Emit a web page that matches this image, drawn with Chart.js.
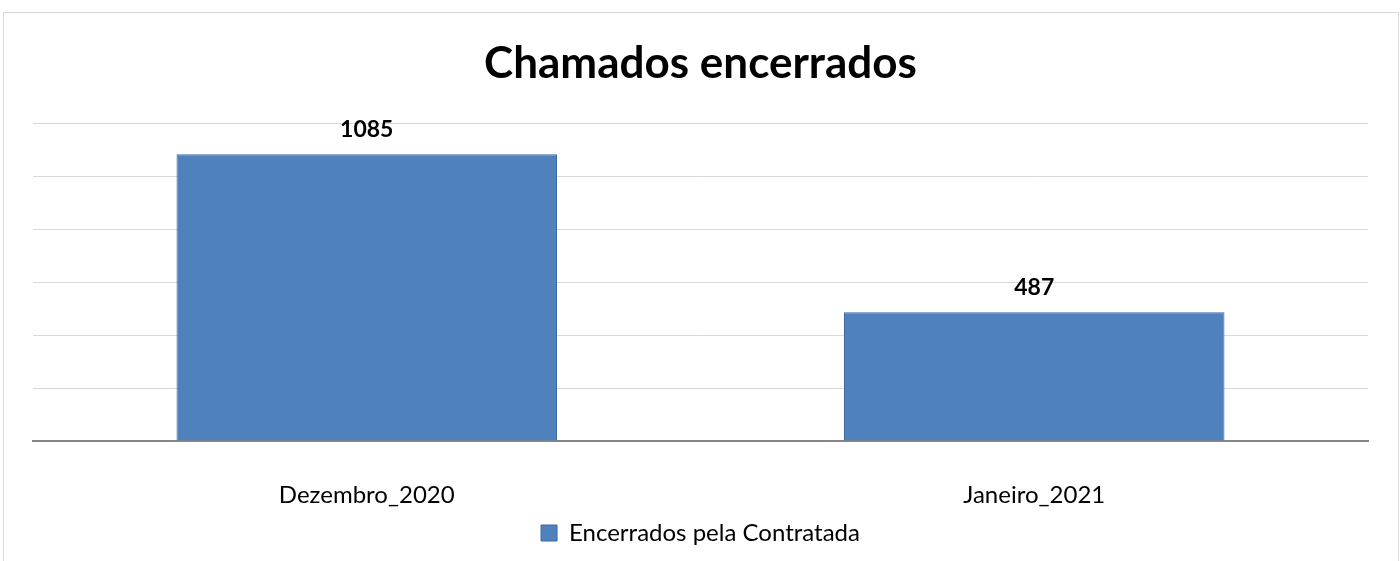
<!DOCTYPE html>
<html lang="pt-BR">
<head>
<meta charset="utf-8">
<title>Chamados encerrados</title>
<script src="https://cdn.jsdelivr.net/npm/chart.js@4/dist/chart.umd.min.js"></script>
<style>
  html, body { margin: 0; padding: 0; background: #fff; }
  .frame { position: absolute; left: 3px; top: 12px; width: 1394px; height: 560px; border: 1px solid #d9d9d9; }
  .wrap { position: absolute; left: 0; top: 0; width: 1400px; height: 561px; }
</style>
</head>
<body>
<div class="frame"></div>
<div class="wrap"><canvas id="chart"></canvas></div>
<script>
/* Chamados encerrados — bar chart */
const categories = ["Dezembro_2020", "Janeiro_2021"];
const seriesLabel = "Encerrados pela Contratada";
const seriesValues = [1085, 487];
const yTicks = [0, 200, 400, 600, 800, 1000, 1200];

(function () {
  "use strict";

  const FONT = "Lato, 'Open Sans', sans-serif";

  // value labels above each bar
  const barLabels = {
    id: "barLabels",
    afterDatasetsDraw(chart) {
      const ctx = chart.ctx;
      const meta = chart.getDatasetMeta(0);
      ctx.save();
      ctx.font = "bold 23px " + FONT;
      ctx.fillStyle = "#000";
      ctx.textAlign = "center";
      ctx.textBaseline = "bottom";
      meta.data.forEach((bar, i) => {
        ctx.fillText(String(seriesValues[i]), bar.x, bar.y - 13);
      });
      ctx.restore();
    },
  };

  new Chart(document.getElementById("chart"), {
    type: "bar",
    data: {
      labels: categories,
      datasets: [{
        label: seriesLabel,
        data: seriesValues,
        backgroundColor: "#4f81bd",
        borderColor: "#3b6a9f",
        borderWidth: 1,
        barPercentage: 0.57,
        categoryPercentage: 1,
      }],
    },
    options: {
      responsive: true, maintainAspectRatio: false, animation: false,
      layout: { padding: { left: 33, right: 32, top: 0, bottom: 6 } },
      plugins: {
        tooltip: { enabled: false },
        title: {
          display: true, text: "Chamados encerrados", color: "#000",
          font: { family: FONT, size: 44, weight: "bold" },
          padding: { top: 37, bottom: 34 },
        },
        legend: {
          position: "bottom",
          labels: { color: "#000", font: { family: FONT, size: 24 }, boxWidth: 16, boxHeight: 16, padding: 8 },
        },
      },
      scales: {
        x: {
          grid: { display: false },
          border: { color: "#868686", width: 2 },
          ticks: { color: "#000", font: { family: FONT, size: 24 }, padding: 32 },
          afterFit: (axis) => { axis.height = 72; },
        },
        y: {
          min: yTicks[0], max: yTicks[yTicks.length - 1],
          afterBuildTicks: (axis) => { axis.ticks = yTicks.map((v) => ({ value: v })); },
          ticks: { display: false },
          border: { display: false },
          grid: { color: "#d9d9d9", drawTicks: false },
        },
      },
    },
    plugins: [barLabels],
  });
})();
</script>
</body>
</html>
